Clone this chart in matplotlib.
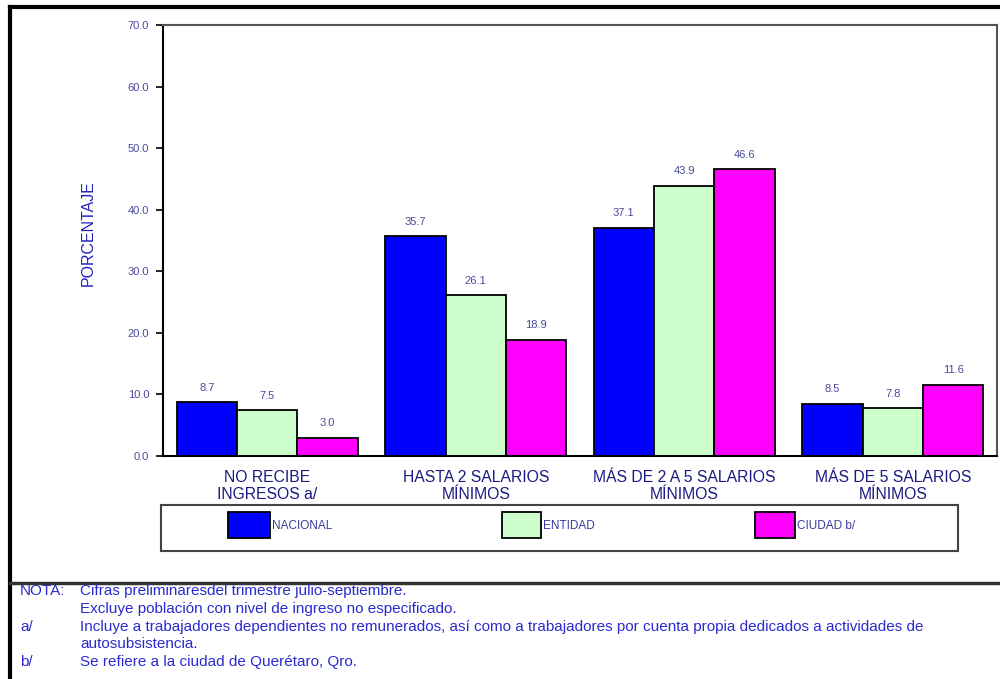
import numpy as np
import matplotlib.pyplot as plt
from matplotlib.patches import Rectangle
from matplotlib.lines import Line2D

categories = ['NO RECIBE\nINGRESOS a/', 'HASTA 2 SALARIOS\nMÍNIMOS',
              'MÁS DE 2 A 5 SALARIOS\nMÍNIMOS', 'MÁS DE 5 SALARIOS\nMÍNIMOS']
nacional = [8.7, 35.7, 37.1, 8.5]
entidad = [7.5, 26.1, 43.9, 7.8]
ciudad = [3.0, 18.9, 46.6, 11.6]
series_names = ['NACIONAL', 'ENTIDAD', 'CIUDAD b/']
colors = ['#0000ff', '#ccffcc', '#ff00ff']

notes = [
    ('NOTA:', 'Cifras preliminaresdel trimestre julio-septiembre.'),
    ('', 'Excluye población con nivel de ingreso no especificado.'),
    ('a/', 'Incluye a trabajadores dependientes no remunerados, así como a trabajadores por cuenta propia dedicados a actividades de'),
    ('', 'autosubsistencia.'),
    ('b/', 'Se refiere a la ciudad de Querétaro, Qro.'),
]

plt.rcParams['font.family'] = ['Liberation Sans', 'DejaVu Sans']
W, H = 1000, 679

fig = plt.figure(figsize=(10, 6.79), dpi=100)
ax = fig.add_axes([0.163, 0.3284, 0.834, 0.6348])

x = np.arange(len(categories))
w = 0.29
for i, (vals, col) in enumerate(zip([nacional, entidad, ciudad], colors)):
    pos = x + (i - 1) * w
    ax.bar(pos, vals, w, color=col, edgecolor='black', linewidth=1.3, zorder=2)
    for p, v in zip(pos, vals):
        ax.text(p, v + 1.5, f'{v:.1f}', ha='center', va='bottom', fontsize=8,
                color='#4a4a9a')

ax.set_xlim(-0.5, 3.5)
ax.set_ylim(0, 70)
ax.set_yticks(np.arange(0, 71, 10))
ax.set_yticklabels([f'{t:.1f}' for t in range(0, 71, 10)], fontsize=8,
                   color='#4a4a9a')
ax.tick_params(axis='y', length=5, width=1.2, direction='out', pad=5)
ax.set_xticks(x)
ax.set_xticklabels(categories, fontsize=11.3, color='#1a1a80', linespacing=1.2)
ax.tick_params(axis='x', length=0, pad=10)
ax.set_ylabel('PORCENTAJE', fontsize=11.5, color='#2020c0')
ax.yaxis.set_label_coords(-0.090, 0.517)
ax.yaxis.label.set_va('center')
for s in ['left', 'bottom']:
    ax.spines[s].set_color('black')
    ax.spines[s].set_linewidth(1.5)
for s in ['top', 'right']:
    ax.spines[s].set_color('#555555')
    ax.spines[s].set_linewidth(1.5)

# legend box below the plot
fig.add_artist(Rectangle((161 / W, 1 - 551 / H), 797 / W, 46 / H, transform=fig.transFigure,
                         facecolor='white', edgecolor='#444444', linewidth=1.5))
for name, col, px, pw in zip(series_names, colors, [228, 502, 755], [42, 39, 40]):
    fig.add_artist(Rectangle((px / W, 1 - 538 / H), pw / W, 26 / H, transform=fig.transFigure,
                             facecolor=col, edgecolor='black', linewidth=1.3))
    fig.text((px + pw + 2) / W, 1 - 526 / H, name, fontsize=8.5, color='#3a3a9a',
             va='center', ha='left')

# outer frame lines
fig.add_artist(Line2D([0.010, 1.0], [1 - 7 / H, 1 - 7 / H], color='black', lw=3))
fig.add_artist(Line2D([0.010, 0.010], [0, 1 - 7 / H], color='black', lw=3))
fig.add_artist(Line2D([0.010, 1.0], [1 - 583 / H, 1 - 583 / H], color='#333333', lw=2.5))

# footnotes
for k, (tag, txt) in enumerate(notes):
    yy = 1 - (591 + k * 17.8) / H
    if tag:
        fig.text(0.020, yy, tag, fontsize=11, color='#2a2ad0', va='center')
    fig.text(0.080, yy, txt, fontsize=11, color='#2a2ad0', va='center')

fig.savefig('out.png', dpi=100)
